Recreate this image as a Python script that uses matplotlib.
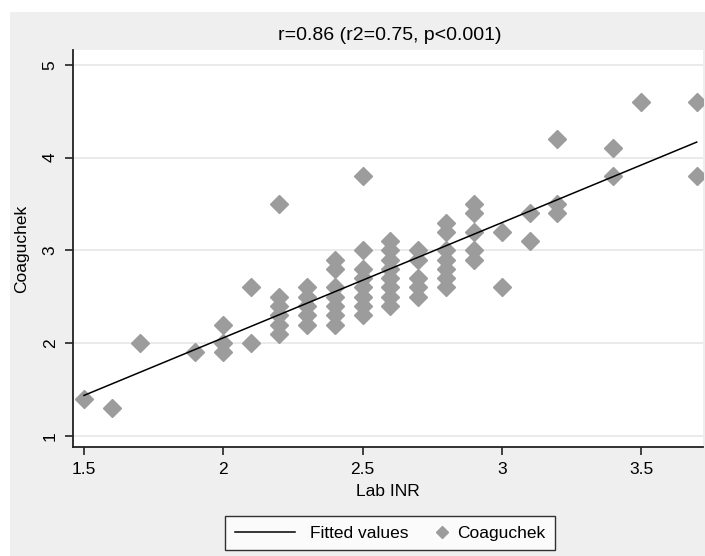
import matplotlib
matplotlib.use("Agg")
import matplotlib.pyplot as plt
import numpy as np
from matplotlib.lines import Line2D
from matplotlib.patches import Rectangle
from matplotlib.legend_handler import HandlerLine2D

plt.rcParams['font.family'] = ['Liberation Sans', 'DejaVu Sans']

# Lab INR (x) and Coaguchek (y) readings, grouped by lab INR value
lab_inr = [1.5, 1.6, 1.7, 1.9, 2.0, 2.1, 2.2, 2.3, 2.4, 2.5,
           2.6, 2.7, 2.8, 2.9, 3.0, 3.1, 3.2, 3.4, 3.5, 3.7]
coaguchek = [
    [1.4],
    [1.3],
    [2.0],
    [1.9],
    [2.2, 2.0, 1.9],
    [2.6, 2.0],
    [3.5, 2.5, 2.4, 2.3, 2.2, 2.1],
    [2.6, 2.5, 2.4, 2.3, 2.2],
    [2.9, 2.8, 2.6, 2.5, 2.4, 2.3, 2.2],
    [3.8, 3.0, 2.8, 2.7, 2.6, 2.5, 2.4, 2.3],
    [3.1, 3.0, 2.9, 2.8, 2.7, 2.6, 2.5, 2.4],
    [3.0, 2.9, 2.7, 2.6, 2.5],
    [3.3, 3.2, 3.0, 2.9, 2.8, 2.7, 2.6],
    [3.5, 3.4, 3.2, 3.0, 2.9],
    [3.2, 2.6],
    [3.4, 3.1],
    [4.2, 3.5, 3.4],
    [4.1, 3.8],
    [4.6],
    [4.6, 3.8],
]
title = "r=0.86 (r2=0.75, p<0.001)"

x = np.array([xv for xv, ys in zip(lab_inr, coaguchek) for _ in ys])
y = np.array([v for ys in coaguchek for v in ys])
slope, intercept = np.polyfit(x, y, 1)
xfit = np.array([x.min(), x.max()])
yfit = intercept + slope * xfit

W, H = 705, 556
fs = 12.5
fig = plt.figure(figsize=(W / 100, H / 100), dpi=100)
fig.patch.set_facecolor('white')
fig.patches.append(Rectangle((10 / W, 0), 1, 1 - 12 / H, transform=fig.transFigure,
                             facecolor='#efefef', edgecolor='none', zorder=-10))

ax = fig.add_axes([73 / W, 1 - 447 / H, 630 / W, 397 / H])
ax.set_facecolor('white')

gray = '#9c9c9c'
ax.plot(x, y, linestyle='none', marker='D', ms=9.2, color=gray, mec=gray, zorder=3)
ax.plot(xfit, yfit, color='black', lw=1.1, zorder=4)

ax.set_xlim(1.4605, 3.7226)
ax.set_ylim(0.88, 5.16)
ax.set_xticks([1.5, 2, 2.5, 3, 3.5])
ax.set_xticklabels(['1.5', '2', '2.5', '3', '3.5'])
ax.set_yticks([1, 2, 3, 4, 5])
ax.yaxis.grid(True, color='#e6e6e6', lw=1.2)
ax.set_axisbelow(True)
for s in ['top', 'right']:
    ax.spines[s].set_visible(False)
for s in ['left', 'bottom']:
    ax.spines[s].set_linewidth(1.3)
    ax.spines[s].set_color('#222222')
ax.tick_params(axis='both', direction='out', length=6, width=1.2, labelsize=fs, pad=5, color='#222222')
for lab in ax.get_yticklabels():
    lab.set_rotation(90)
    lab.set_va('center')

ax.set_xlabel('Lab INR', fontsize=fs)
ax.xaxis.set_label_coords(0.5, -(492 - 447) / 397)
ax.xaxis.label.set_va('center')
ax.set_ylabel('Coaguchek', fontsize=fs)
ax.yaxis.set_label_coords(-(73 - 22) / 630, 0.5)
ax.yaxis.label.set_va('center')
fig.text(390 / W, 1 - 36 / H, title, ha='center', va='center', fontsize=14)


class RightMarker(HandlerLine2D):
    def create_artists(self, legend, orig_handle, xdescent, ydescent, width, height, fontsize, trans):
        return super().create_artists(legend, orig_handle, xdescent - width / 2 + 0.05 * fontsize,
                                      ydescent, width, height, fontsize, trans)


h_line = Line2D([], [], color='black', lw=1.1)
h_pt = Line2D([], [], color=gray, marker='D', ls='none', ms=6.5)
leg = fig.legend([h_line, h_pt], ['Fitted values', 'Coaguchek'], ncol=2,
                 loc='center', bbox_to_anchor=(390 / W, 1 - 533 / H),
                 fontsize=fs, frameon=True, fancybox=False, edgecolor='black',
                 handlelength=3.5, handletextpad=0.85, columnspacing=-1.55,
                 borderpad=0.55, numpoints=1, handler_map={h_pt: RightMarker(numpoints=1)})
leg.get_frame().set_linewidth(1.0)
leg.get_frame().set_facecolor('white')

fig.savefig('out.png', dpi=100)
